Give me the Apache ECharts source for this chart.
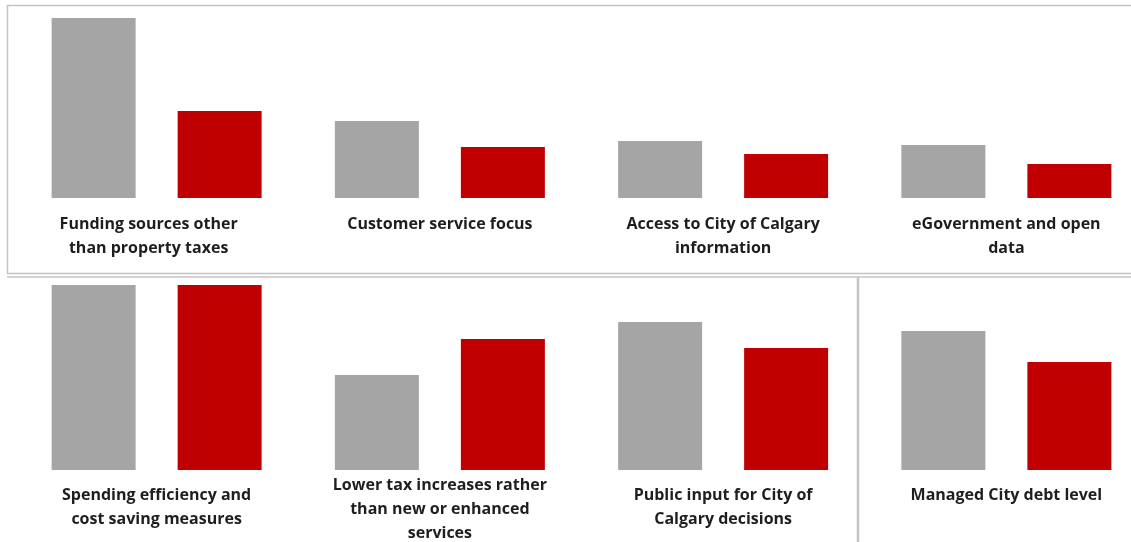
<!DOCTYPE html>
<html>
<head>
<meta charset="utf-8">
<script src="https://cdn.jsdelivr.net/npm/echarts@6/dist/echarts.min.js"></script>
<style>
  html, body { margin: 0; padding: 0; background: #fff; }
  #chart { width: 1131px; height: 542px; }
</style>
</head>
<body>
<div id="chart"></div>
<script>
'use strict';

// top panel
var topCategories = [
  'Funding sources other\nthan property taxes',
  'Customer service focus',
  'Access to City of Calgary\ninformation',
  'eGovernment and open\ndata'
];
var topGray = [36, 15.4, 11.4, 10.6];
var topRed = [17.4, 10.2, 8.8, 6.8];

// bottom panel
var bottomCategories = [
  'Spending efficiency and\ncost saving measures',
  'Lower tax increases rather\nthan new or enhanced\nservices',
  'Public input for City of\nCalgary decisions',
  'Managed City debt level'
];
var bottomGray = [37, 19, 29.6, 27.8];
var bottomRed = [37, 26.2, 24.4, 21.6];

var GRAY = '#a5a5a5';
var RED = '#c00000';
var LINE = '#c4c4c4';

var labelFont = {
  color: '#1e1e1e',
  fontFamily: 'Open Sans',
  fontWeight: 700,
  fontSize: 16,
  lineHeight: 24
};

var myChart = echarts.init(document.getElementById('chart'));

// first top label is nudged a little to the left in the original
var topData = topCategories.map(function (name, i) {
  if (i === 0) {
    return { value: name, textStyle: { padding: [0, 16, 0, 0] } };
  }
  return name;
});

// the 3-line label sits a bit higher than the others
var bottomData = bottomCategories.map(function (name) {
  if (name.split('\n').length > 2) {
    return name;
  }
  return { value: name, textStyle: { padding: [10, 0, 0, 0] } };
});

function barSeries(data, color, axisIdx) {
  return {
    type: 'bar',
    xAxisIndex: axisIdx,
    yAxisIndex: axisIdx,
    data: data,
    barWidth: 84,
    barGap: '50%',
    itemStyle: { color: color },
    silent: true
  };
}

function catAxis(gridIdx, data, margin) {
  return {
    type: 'category',
    gridIndex: gridIdx,
    data: data,
    axisLine: { show: false },
    axisTick: { show: false },
    axisLabel: Object.assign({ margin: margin, interval: 0 }, labelFont)
  };
}

function valAxis(gridIdx, max) {
  return {
    type: 'value',
    gridIndex: gridIdx,
    min: 0,
    max: max,
    show: false,
    splitLine: { show: false }
  };
}

myChart.setOption({
  animation: false,
  grid: [
    { left: 15, width: 1133, top: 18, height: 180, outerBoundsMode: 'none', containLabel: false },
    { left: 15, width: 1133, top: 285, height: 185, outerBoundsMode: 'none', containLabel: false }
  ],
  xAxis: [
    catAxis(0, topData, 14),
    catAxis(1, bottomData, 3)
  ],
  yAxis: [
    valAxis(0, 36),
    valAxis(1, 37)
  ],
  series: [
    barSeries(topGray, GRAY, 0),
    barSeries(topRed, RED, 0),
    barSeries(bottomGray, GRAY, 1),
    barSeries(bottomRed, RED, 1)
  ],
  graphic: [
    {
      type: 'polyline',
      shape: { points: [[1131, 5.5], [7.5, 5.5], [7.5, 273.5], [1131, 273.5]] },
      style: { stroke: LINE, lineWidth: 1.5, fill: null },
      silent: true
    },
    {
      type: 'line',
      shape: { x1: 7, y1: 277, x2: 1131, y2: 277 },
      style: { stroke: LINE, lineWidth: 1.5 },
      silent: true
    },
    {
      type: 'line',
      shape: { x1: 858, y1: 277, x2: 858, y2: 542 },
      style: { stroke: LINE, lineWidth: 2.5 },
      silent: true
    }
  ]
});
</script>
</body>
</html>
